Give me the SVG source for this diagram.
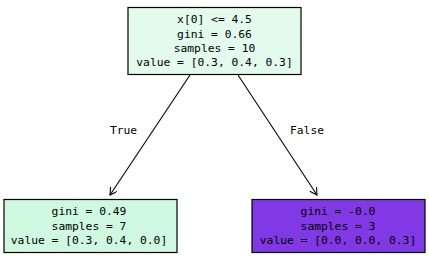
<svg xmlns="http://www.w3.org/2000/svg" width="429" height="259" viewBox="0 0 429 259">
<defs>
<style>
.box{stroke:#000;stroke-width:1.2}
.t{font-family:"DejaVu Sans Mono","Liberation Mono",monospace;font-size:11.3px;fill:#000;text-anchor:middle}
.edge{stroke:#000;stroke-width:1.1;fill:none}
</style>
<marker id="ah" markerWidth="10" markerHeight="10" refX="8" refY="4" orient="auto" markerUnits="userSpaceOnUse">
<path d="M1,0 L8,4 L1,8" fill="none" stroke="#000" stroke-width="1.1"/>
</marker>
</defs>
<rect width="429" height="259" fill="#fff"/>
<g id="connectors">
<line class="edge" x1="190" y1="75" x2="110" y2="195" marker-end="url(#ah)"/>
<line class="edge" x1="238" y1="75" x2="317" y2="195" marker-end="url(#ah)"/>
<text class="t" x="123.5" y="134">True</text>
<text class="t" x="307" y="134">False</text>
</g>
<g id="node0">
<rect class="box" x="128" y="7.5" width="173" height="67" fill="#e3fbed"/>
<text class="t" x="214.5" y="23">x[0] &lt;= 4.5</text>
<text class="t" x="214.5" y="37.5">gini = 0.66</text>
<text class="t" x="214.5" y="52">samples = 10</text>
<text class="t" x="214.5" y="66">value = [0.3, 0.4, 0.3]</text>
</g>
<g id="node1">
<rect class="box" x="4" y="199.5" width="173" height="53" fill="#cef9e0"/>
<text class="t" x="89" y="215">gini = 0.49</text>
<text class="t" x="89" y="229.5">samples = 7</text>
<text class="t" x="89" y="244">value = [0.3, 0.4, 0.0]</text>
</g>
<g id="node2">
<rect class="box" x="252" y="199.5" width="173" height="53" fill="#8139e5"/>
<text class="t" x="338" y="215">gini = -0.0</text>
<text class="t" x="338" y="229.5">samples = 3</text>
<text class="t" x="338" y="244">value = [0.0, 0.0, 0.3]</text>
</g>
</svg>
